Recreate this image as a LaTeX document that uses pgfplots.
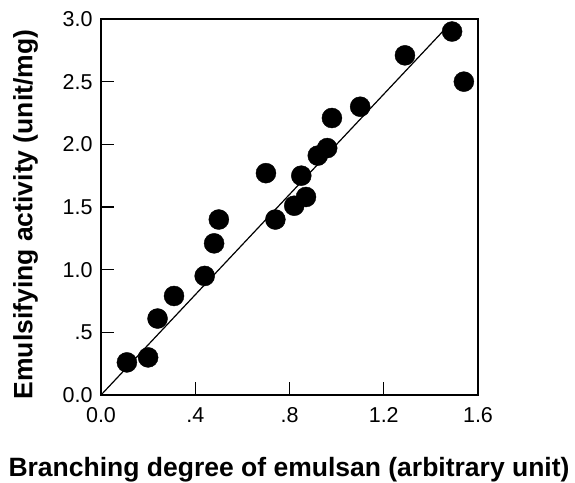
\documentclass[border=0pt]{standalone}
\usepackage{fontspec}
\setmainfont{Liberation Sans}
\usepackage{pgfplots}
\pgfplotsset{compat=1.18}

\begin{document}
\begin{tikzpicture}
\begin{axis}[
    name=ax,
    scale only axis,
    width=377pt, height=376pt,
    xmin=0, xmax=1.6,
    ymin=0, ymax=3.0,
    xtick={0,0.4,0.8,1.2,1.6},
    xticklabels={0.0,.4,.8,1.2,1.6},
    ytick={0,0.5,1,1.5,2,2.5,3},
    yticklabels={0.0,.5,1.0,1.5,2.0,2.5,3.0},
    tick align=inside,
    xtick pos=left, ytick pos=left,
    major tick length=13pt,
    axis line style={line width=2pt},
    every tick/.style={line width=1.3pt, black},
    /pgf/number format/assume math mode=true,
    tick label style={font=\fontsize{21.5}{25}\selectfont},
    x tick label style={yshift=-9pt},
    y tick label style={xshift=-5pt},
    xlabel={\textbf{Branching degree of emulsan (arbitrary unit)}},
    ylabel={\textbf{Emulsifying activity (unit/mg)}},
    label style={font=\fontsize{26.5}{30}\selectfont},
    xlabel style={at={(axis description cs:0.4987,-0.216)}, anchor=base},
    ylabel style={at={(axis description cs:-0.2,0.48)}, anchor=center},
    clip=false,
]
% regression line
\addplot[black, line width=1.2pt] coordinates {(0,0) (1.46,2.92)};
% measured points
\addplot[only marks, mark=*, mark size=10pt, black] coordinates {
    (0.11,0.26) (0.20,0.30) (0.24,0.61) (0.31,0.79) (0.44,0.95)
    (0.48,1.21) (0.50,1.40) (0.70,1.77) (0.74,1.40) (0.82,1.51)
    (0.87,1.58) (0.85,1.75) (0.92,1.91) (0.96,1.97) (0.98,2.21)
    (1.10,2.30) (1.29,2.71) (1.49,2.90) (1.54,2.50)
};
\end{axis}
\pgfresetboundingbox
\path (ax.south west) ++(-101pt,-88pt) coordinate (bl);
\path (ax.north east) ++(97pt,19pt) coordinate (tr);
\path[use as bounding box] (bl) rectangle (tr);
\end{tikzpicture}
\end{document}
